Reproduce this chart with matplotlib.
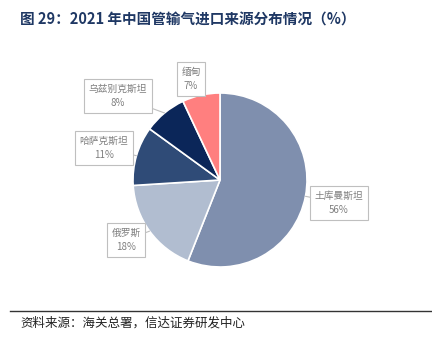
import numpy as np
import matplotlib
matplotlib.use('Agg')
import matplotlib.pyplot as plt

plt.rcParams['font.family'] = ['Noto Sans CJK SC', 'DejaVu Sans']

# 管输气进口来源及占比（%）
countries = ['土库曼斯坦', '俄罗斯', '哈萨克斯坦', '乌兹别克斯坦', '缅甸']
shares = [56, 18, 11, 8, 7]
colors = ['#7F8FAE', '#B1BDD0', '#2F4B77', '#0B2659', '#FF7F7F']

# 标签框中心位置（像素，y 向上）
label_pos = [(339, 139), (126, 102), (104, 194), (118, 246), (191, 263)]

fig = plt.figure(figsize=(4.32, 3.42), dpi=100)
ax = fig.add_axes([0, 0, 1, 1])
ax.set_xlim(0, 432)
ax.set_ylim(0, 342)
ax.set_aspect('equal')
ax.axis('off')

cx, cy, r = 220, 162, 87
wedges, _ = ax.pie(shares, colors=colors, startangle=90, counterclock=False,
                   center=(cx, cy), radius=r,
                   wedgeprops=dict(edgecolor='white', linewidth=1.2))
ax.set_xlim(0, 432)
ax.set_ylim(0, 342)

for w, name, val, (lx, ly) in zip(wedges, countries, shares, label_pos):
    ang = np.deg2rad((w.theta1 + w.theta2) / 2)
    ex, ey = cx + r * np.cos(ang), cy + r * np.sin(ang)
    ax.annotate(f'{name}\n{val}%', xy=(ex, ey), xytext=(lx, ly),
                ha='center', va='center', fontsize=7, color='#7F7F7F',
                linespacing=1.6,
                bbox=dict(boxstyle='square,pad=0.45', fc='white', ec='#BFBFBF', lw=0.8),
                arrowprops=dict(arrowstyle='-', color='#BFBFBF', lw=0.8,
                                shrinkA=0, shrinkB=0))

fig.text(20 / 432, 1 - 20 / 342, '图 29：2021 年中国管输气进口来源分布情况（%）',
         fontsize=10.5, fontweight='bold', color='#1F3864', va='center', ha='left')

ax.plot([10, 432], [342 - 311, 342 - 311], color='#333333', lw=1.0)
fig.text(20 / 432, 1 - 323 / 342, '资料来源：海关总署，信达证券研发中心',
         fontsize=9, color='#222222', va='center', ha='left', style='italic')

fig.savefig('out.png', dpi=100)
